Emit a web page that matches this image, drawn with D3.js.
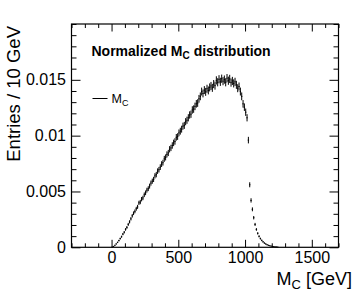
<!DOCTYPE html>
<html>
<head>
<meta charset="utf-8">
<script src="https://cdn.jsdelivr.net/npm/d3@7"></script>
<style>
  html, body { margin: 0; padding: 0; background: #fff; }
  svg { display: block; }
  text { font-family: "Liberation Sans", Arial, Helvetica, sans-serif; }
</style>
</head>
<body>
<div id="chart"></div>
<script>
// ---- data ----
const binWidth = 10;          // GeV
const binStart = 0;           // GeV, left edge of first bin
const entries = [
  0.00002, 0.00008, 0.00018, 0.00030, 0.00044, 0.00060, 0.00078, 0.00095, 0.00118, 0.00135,
  0.00160, 0.00178, 0.00205, 0.00228, 0.00255, 0.00282, 0.00305, 0.00322, 0.00345, 0.00362,
  0.00398, 0.00405, 0.00431, 0.00442, 0.00470, 0.00488, 0.00512, 0.00525, 0.00548, 0.00575,
  0.00592, 0.00608, 0.00640, 0.00651, 0.00682, 0.00695, 0.00718, 0.00745, 0.00758, 0.00792,
  0.00805, 0.00832, 0.00845, 0.00878, 0.00890, 0.00912, 0.00935, 0.00948, 0.00985, 0.00992,
  0.01025, 0.01040, 0.01058, 0.01085, 0.01092, 0.01125, 0.01138, 0.01160, 0.01185, 0.01192,
  0.01230, 0.01238, 0.01262, 0.01285, 0.01292, 0.01330, 0.01352, 0.01395, 0.01378, 0.01408,
  0.01392, 0.01420, 0.01405, 0.01432, 0.01445, 0.01428, 0.01462, 0.01448, 0.01495, 0.01478,
  0.01505, 0.01482, 0.01510, 0.01488, 0.01502, 0.01478, 0.01515, 0.01492, 0.01508, 0.01475,
  0.01490, 0.01468, 0.01482, 0.01455, 0.01425, 0.01440, 0.01395, 0.01352, 0.01285, 0.01255,
  0.01210, 0.01160, 0.00960, 0.00560, 0.00420, 0.00340, 0.00265, 0.00205, 0.00160, 0.00125,
  0.00098, 0.00078, 0.00062, 0.00049, 0.00038, 0.00030, 0.00023, 0.00018, 0.00014, 0.00011,
  0.00008, 0.00006, 0.00004, 0.00003, 0.00002
];
const xDomain = [-300, 1700];
const yDomain = [0, 0.02];
const xMajorTicks = [0, 500, 1000, 1500];
const yMajorTicks = [0, 0.005, 0.01, 0.015];
const xTickLabels = ["0", "500", "1000", "1500"];
const yTickLabels = ["0", "0.005", "0.01", "0.015"];
const titleText = "Normalized M";
const titleSub = "C";
const titleRest = " distribution";
const legendText = "M";
const legendSub = "C";

// ---- layout ----
const W = 357, H = 302;
const frame = { left: 71.5, right: 338.5, top: 24, bottom: 247.3 };

const svg = d3.select("#chart").append("svg").attr("width", W).attr("height", H);

const x = d3.scaleLinear().domain(xDomain).range([frame.left, frame.right]);
const y = d3.scaleLinear().domain(yDomain).range([frame.bottom, frame.top]);

const xMinor = d3.range(-300, 1701, 100).filter(v => !xMajorTicks.includes(v));
const yMinor = d3.range(0, 21, 1).map(v => v / 1000).filter(v => !yMajorTicks.some(t => Math.abs(t - v) < 1e-9));

function styleAxis(g) {
  g.select(".domain").remove();
  g.selectAll(".tick line").attr("stroke", "#000").attr("stroke-width", 1);
}

// bottom axis (ticks inward)
const gB = svg.append("g").attr("transform", `translate(0,${frame.bottom})`);
gB.call(d3.axisBottom(x).tickValues(xMajorTicks).tickSize(-7.5).tickPadding(4.5)
  .tickFormat((d, i) => xTickLabels[i]));
styleAxis(gB);
gB.selectAll(".tick text").attr("font-size", 16).attr("fill", "#000")
  .attr("font-family", '"Liberation Sans", Arial, sans-serif');
const gBm = svg.append("g").attr("transform", `translate(0,${frame.bottom})`);
gBm.call(d3.axisBottom(x).tickValues(xMinor).tickSize(-4).tickFormat(""));
styleAxis(gBm);

// top axis
const gT = svg.append("g").attr("transform", `translate(0,${frame.top})`);
gT.call(d3.axisTop(x).tickValues(xMajorTicks).tickSize(-7.5).tickFormat(""));
styleAxis(gT);
const gTm = svg.append("g").attr("transform", `translate(0,${frame.top})`);
gTm.call(d3.axisTop(x).tickValues(xMinor).tickSize(-4).tickFormat(""));
styleAxis(gTm);

// left axis
const gL = svg.append("g").attr("transform", `translate(${frame.left},0)`);
gL.call(d3.axisLeft(y).tickValues(yMajorTicks).tickSize(-9).tickPadding(5.5)
  .tickFormat((d, i) => yTickLabels[i]));
styleAxis(gL);
gL.selectAll(".tick text").attr("font-size", 16).attr("fill", "#000")
  .attr("font-family", '"Liberation Sans", Arial, sans-serif');
const gLm = svg.append("g").attr("transform", `translate(${frame.left},0)`);
gLm.call(d3.axisLeft(y).tickValues(yMinor).tickSize(-5).tickFormat(""));
styleAxis(gLm);

// right axis
const gR = svg.append("g").attr("transform", `translate(${frame.right},0)`);
gR.call(d3.axisRight(y).tickValues(yMajorTicks).tickSize(-9).tickFormat(""));
styleAxis(gR);
const gRm = svg.append("g").attr("transform", `translate(${frame.right},0)`);
gRm.call(d3.axisRight(y).tickValues(yMinor).tickSize(-5).tickFormat(""));
styleAxis(gRm);

// frame
svg.append("rect")
  .attr("x", frame.left).attr("y", frame.top)
  .attr("width", frame.right - frame.left).attr("height", frame.bottom - frame.top)
  .attr("fill", "none").attr("stroke", "#000").attr("stroke-width", 1.2);

// histogram drawn as error bars (ROOT "E" style)
const bins = entries.map((v, i) => ({
  x0: binStart + i * binWidth,
  x1: binStart + (i + 1) * binWidth,
  v: v,
  err: 0.003 * Math.sqrt(v)   // statistical error from the bin content
}));
const gH = svg.append("g").attr("stroke", "#000").attr("stroke-width", 1);
gH.selectAll("line.h").data(bins).join("line").attr("class", "h")
  .attr("x1", d => x(d.x0)).attr("x2", d => x(d.x1))
  .attr("y1", d => y(d.v)).attr("y2", d => y(d.v));
gH.selectAll("line.v").data(bins).join("line").attr("class", "v")
  .attr("x1", d => x((d.x0 + d.x1) / 2)).attr("x2", d => x((d.x0 + d.x1) / 2))
  .attr("y1", d => y(d.v - d.err)).attr("y2", d => y(d.v + d.err));

// title
const t = svg.append("text").attr("x", 91.5).attr("y", 56)
  .attr("font-size", 14).attr("font-weight", "bold").attr("fill", "#000");
t.append("tspan").text(titleText);
t.append("tspan").attr("font-size", 10).attr("dy", 3).text(titleSub);
t.append("tspan").attr("dy", -3).text(titleRest);

// legend
svg.append("line").attr("x1", 92.5).attr("x2", 107.5).attr("y1", 98.5).attr("y2", 98.5)
  .attr("stroke", "#000").attr("stroke-width", 1);
const lg = svg.append("text").attr("x", 111.5).attr("y", 103)
  .attr("font-size", 12.5).attr("fill", "#000");
lg.append("tspan").text(legendText);
lg.append("tspan").attr("font-size", 9).attr("dy", 3).text(legendSub);

// axis titles
const xt = svg.append("text").attr("x", 352).attr("y", 284.5)
  .attr("text-anchor", "end").attr("font-size", 18).attr("fill", "#000");
xt.append("tspan").text("M");
xt.append("tspan").attr("font-size", 13).attr("dy", 4).text("C");
xt.append("tspan").attr("dy", -4).text(" [GeV]");

svg.append("text")
  .attr("transform", `translate(20,${frame.top + 2}) rotate(-90)`)
  .attr("text-anchor", "end").attr("font-size", 18.5).attr("fill", "#000")
  .text("Entries / 10 GeV");
</script>
</body>
</html>
